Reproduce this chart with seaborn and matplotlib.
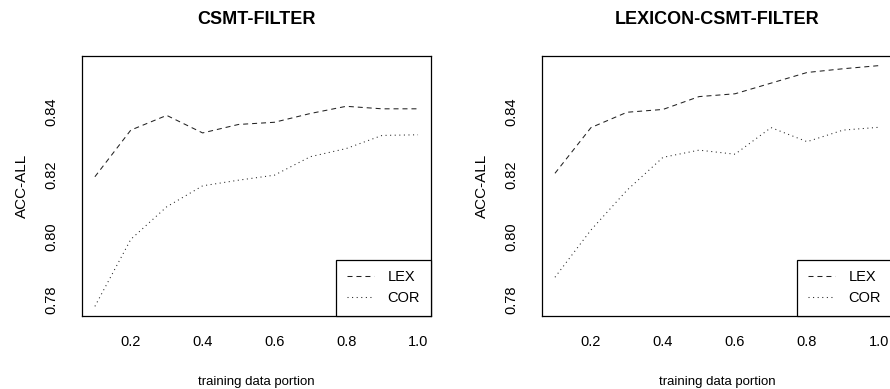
import numpy as np
import matplotlib
matplotlib.use("Agg")
import matplotlib.pyplot as plt
import seaborn as sns
import pandas as pd

portion = [0.1, 0.2, 0.3, 0.4, 0.5, 0.6, 0.7, 0.8, 0.9, 1.0]

csmt_lex = [0.8193, 0.8342, 0.8389, 0.8333, 0.8360, 0.8367, 0.8395, 0.8418, 0.8410, 0.8410]
csmt_cor = [0.7779, 0.7993, 0.8097, 0.8164, 0.8182, 0.8198, 0.8257, 0.8283, 0.8325, 0.8327]

lexcsmt_lex = [0.8204, 0.8350, 0.8399, 0.8408, 0.8449, 0.8458, 0.8492, 0.8526, 0.8538, 0.8548]
lexcsmt_cor = [0.7872, 0.8023, 0.8150, 0.8255, 0.8278, 0.8265, 0.8350, 0.8305, 0.8342, 0.8351]

titles = ["CSMT-FILTER", "LEXICON-CSMT-FILTER"]
series_names = ["LEX", "COR"]
xticks = [0.2, 0.4, 0.6, 0.8, 1.0]
yticks = [0.78, 0.80, 0.82, 0.84]

sns.set_style("white")
plt.rcParams["font.family"] = ["Liberation Sans Narrow", "Liberation Sans", "DejaVu Sans"]
plt.rcParams["text.color"] = "black"
plt.rcParams["axes.labelcolor"] = "black"

narrow = ["Liberation Sans Narrow", "Liberation Sans"]


def make_df(lex, cor):
    d = pd.DataFrame({"portion": portion * 2,
                      "acc": lex + cor,
                      "series": ["LEX"] * len(lex) + ["COR"] * len(cor)})
    return d


fig = plt.figure(figsize=(8.9, 3.89), dpi=100)
ax1 = fig.add_axes([0.0921, 0.1877, 0.3921, 0.6684])
ax2 = fig.add_axes([0.609, 0.1877, 0.3933, 0.6684])

all_vals = csmt_lex + csmt_cor + lexcsmt_lex + lexcsmt_cor
lo, hi = min(all_vals), max(all_vals)
pad = 0.04 * (hi - lo)
xpad = 0.04 * (max(portion) - min(portion))

dash_styles = {"LEX": (4.8, 3.8), "COR": (1.0, 3.4)}

for ax, title, (lex, cor) in zip([ax1, ax2], titles,
                                 [(csmt_lex, csmt_cor), (lexcsmt_lex, lexcsmt_cor)]):
    df = make_df(lex, cor)
    sns.lineplot(data=df, x="portion", y="acc", style="series", style_order=series_names,
                 dashes=dash_styles, color="#222222", linewidth=0.75, legend=False, ax=ax)
    ax.set_xlim(min(portion) - xpad, max(portion) + xpad)
    ax.set_ylim(lo - pad, hi + pad)
    ax.set_xticks(xticks)
    ax.set_xticklabels(["%.1f" % t for t in xticks], family=narrow, fontsize=10.5)
    ax.set_yticks(yticks)
    ax.set_yticklabels(["%.2f" % t for t in yticks], family=narrow, fontsize=10.5,
                       rotation=90, va="center")
    ax.tick_params(axis="x", direction="out", length=7, width=0.8, pad=7, colors="black")
    ax.tick_params(axis="y", direction="out", length=7, width=0.8, pad=10, colors="black")
    for s in ax.spines.values():
        s.set_visible(True)
        s.set_color("black")
        s.set_linewidth(0.9)
    ax.set_xlabel("training data portion", family=narrow, fontsize=9.5, labelpad=19)
    ax.set_ylabel("ACC-ALL", family=narrow, fontsize=11, labelpad=11)
    ax.set_title(title, fontweight="bold", family="Liberation Sans", fontsize=13, pad=23)
    handles = ax.get_lines()[:2]
    leg = ax.legend(handles, series_names, loc="lower right", borderaxespad=0,
                    fancybox=False, framealpha=1, edgecolor="black", handlelength=1.85,
                    handletextpad=0.95, borderpad=0.75, labelspacing=0.45,
                    prop={"family": narrow, "size": 10.5})
    leg.get_frame().set_linewidth(0.9)

fig.savefig("out.png", dpi=100)
